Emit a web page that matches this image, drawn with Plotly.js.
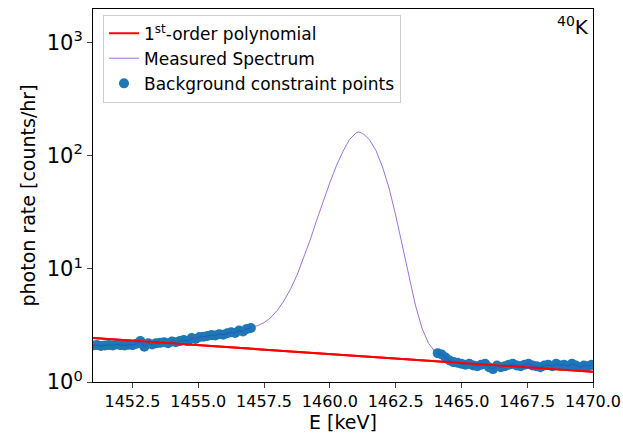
<!DOCTYPE html>
<html>
<head>
<script src="https://cdn.plot.ly/plotly-3.0.1.min.js"></script>
<style>body{margin:0;background:#fff}</style>
</head>
<body>
<div id="chart" style="width:623px;height:435px"></div>
<script>
// background constraint points (left and right of the peak)
const bgLeftStart = 1451.0, bgRightStart = 1464.1, bgStep = 0.15;
const bgLeftY = [2.1,2.12,2.08,2.1,2.13,2.1,2.15,2.12,2.1,2.14,2.12,2.18,2.3,2.05,2.2,2.15,2.2,2.22,2.25,2.2,2.28,2.25,2.3,2.35,2.3,2.45,2.4,2.5,2.52,2.55,2.6,2.58,2.65,2.62,2.7,2.75,2.72,2.85,2.8,2.95,3.0];
const bgRightY = [1.8,1.75,1.65,1.55,1.5,1.48,1.45,1.42,1.45,1.4,1.38,1.42,1.45,1.35,1.3,1.4,1.35,1.38,1.42,1.45,1.4,1.38,1.42,1.45,1.4,1.38,1.35,1.4,1.42,1.38,1.45,1.4,1.42,1.38,1.45,1.4,1.35,1.4,1.38,1.42];

// peak region of the measured spectrum
const peakX = [1457.0,1457.25,1457.5,1457.75,1458.0,1458.25,1458.5,1458.75,1459.0,1459.25,1459.5,1459.75,1460.0,1460.25,1460.5,1460.75,1461.0,1461.1,1461.25,1461.5,1461.75,1462.0,1462.25,1462.5,1462.75,1463.0,1463.25,1463.5,1463.75,1464.0];
const peakY = [3.05,3.15,3.35,3.7,4.3,5.2,6.6,8.8,12.5,18,27,40,58,82,110,140,160,163,158,140,112,80,52,30,16,8.5,4.8,3.0,2.2,1.85];

// 1st-order polynomial end points
const polyX = [1451, 1470];
const polyY = [2.45, 1.23];

const bgLeftX = bgLeftY.map((_, i) => bgLeftStart + i * bgStep);
const bgRightX = bgRightY.map((_, i) => bgRightStart + i * bgStep);
const bgX = bgLeftX.concat(bgRightX);
const bgY = bgLeftY.concat(bgRightY);

const specX = bgLeftX.concat(peakX, bgRightX);
const specY = bgLeftY.concat(peakY, bgRightY);

const data = [
  { x: polyX, y: polyY, mode: "lines", name: "1<sup>st</sup>-order polynomial",
    line: { color: "#ff0000", width: 2 } },
  { x: specX, y: specY, mode: "lines", name: "Measured Spectrum",
    line: { color: "#a070d8", width: 1 } },
  { x: bgX, y: bgY, mode: "markers", name: "Background constraint points",
    marker: { color: "#1f77b4", size: 10 } },
  { x: bgLeftX, y: bgLeftY, mode: "lines", showlegend: false, line: { color: "#1f50d0", width: 0.8 } },
  { x: bgRightX, y: bgRightY, mode: "lines", showlegend: false, line: { color: "#1f50d0", width: 0.8 } },
  { x: polyX, y: polyY, mode: "lines", showlegend: false, line: { color: "#ff0000", width: 2 } }
];

const layout = {
  width: 623, height: 435,
  margin: { l: 93, r: 30, t: 9, b: 53 },
  font: { family: "DejaVu Sans", color: "#000", size: 16 },
  paper_bgcolor: "#fff", plot_bgcolor: "#fff",
  showlegend: true,
  legend: { x: 0.02, y: 0.985, xanchor: "left", yanchor: "top", bgcolor: "rgba(255,255,255,0.8)",
    bordercolor: "#ccc", borderwidth: 1, font: { size: 17 }, tracegroupgap: 4 },
  xaxis: { range: [1451, 1470], tickvals: [1452.5,1455,1457.5,1460,1462.5,1465,1467.5,1470],
    ticktext: ["1452.5","1455.0","1457.5","1460.0","1462.5","1465.0","1467.5","1470.0"],
    ticks: "outside", ticklen: 5, showgrid: false, zeroline: false, showline: true, mirror: true,
    linecolor: "#000", linewidth: 1, tickfont: { size: 16 },
    title: { text: "E [keV]", font: { size: 19 }, standoff: 4 } },
  yaxis: { type: "log", range: [0, 3.3], tickvals: [1, 10, 100, 1000],
    ticktext: ["10<sup>0</sup>","10<sup>1</sup>","10<sup>2</sup>","10<sup>3</sup>"],
    ticks: "outside", ticklen: 5, showgrid: false, zeroline: false, showline: true, mirror: true,
    linecolor: "#000", linewidth: 1, tickfont: { size: 21 },
    title: { text: "photon rate [counts/hr]", font: { size: 19 }, standoff: 6 } },
  annotations: [{ xref: "paper", yref: "paper", x: 0.995, y: 0.995, xanchor: "right", yanchor: "top",
    text: "<sup>40</sup>K", showarrow: false, font: { size: 20 } }]
};

Plotly.newPlot("chart", data, layout, { displayModeBar: false });
</script>
</body>
</html>
